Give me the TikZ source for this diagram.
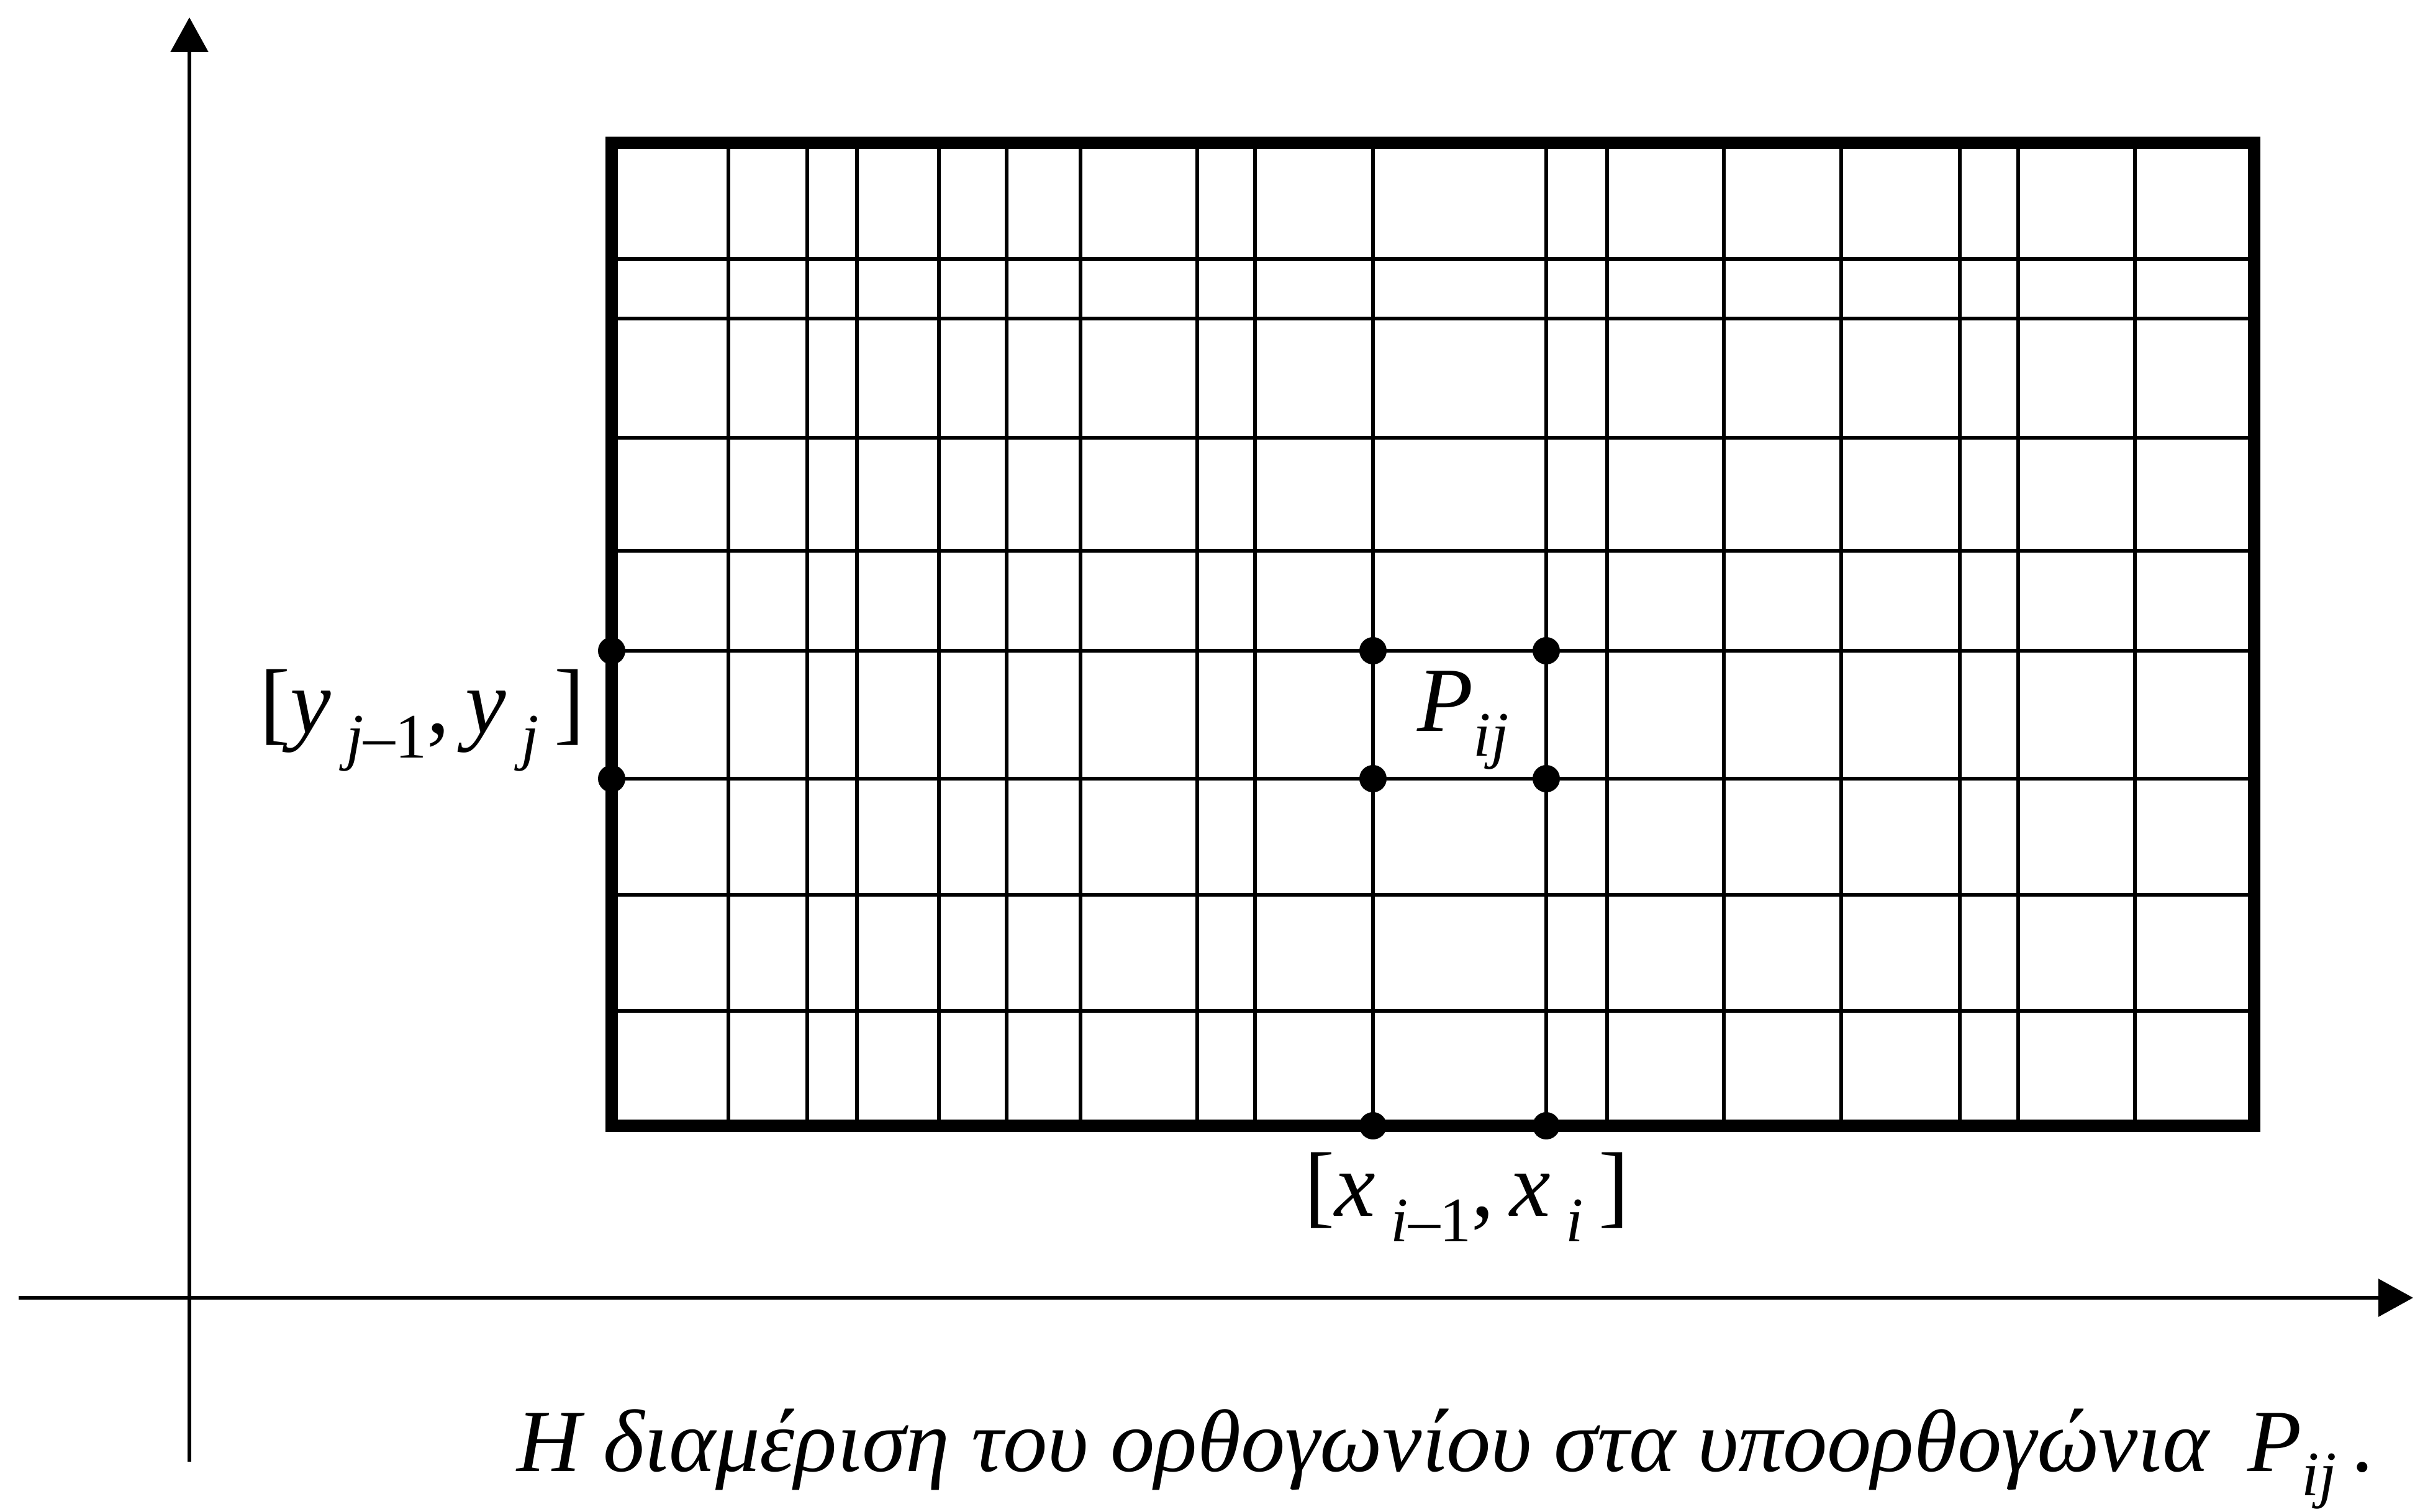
\documentclass[tikz,border=0pt]{standalone}
\usepackage{fontspec}
\setmainfont{Liberation Serif}
\usetikzlibrary{arrows.meta,positioning}
\newcommand{\lowsub}[1]{\raisebox{-0.6ex}{\fontsize{14.5}{15}\selectfont #1}}

\begin{document}
\begin{tikzpicture}[every node/.style={font=\fontsize{21}{24}\selectfont},
  axis/.style={line width=0.9pt, -{Triangle[length=2.8mm, width=3mm]}},
  border/.style={line width=2.9pt},
  gridline/.style={line width=0.95pt},
  dot/.style={circle, fill, inner sep=0pt, minimum size=2.2mm}]
  \useasboundingbox (0,0) rectangle (19.445,12.17);
  % axes
  \coordinate (ybot) at (1.525,0.40);
  \coordinate (ytop) at (1.525,12.03);
  \coordinate (xleft) at (0.15,1.72);
  \coordinate (xright) at (19.43,1.72);
  \draw[axis] (ybot) -- (ytop);
  \draw[axis] (xleft) -- (xright);
  % partition of the rectangle
  \foreach \x in {5.865,6.50,6.90,7.56,8.105,8.70,9.64,10.105,11.055,12.45,12.94,13.88,14.825,15.78,16.25,17.19}
    \draw[gridline] (\x,3.105) -- (\x,11.02);
  \foreach \y in {4.03,4.965,5.90,6.93,7.735,8.645,9.605,10.085}
    \draw[gridline] (4.925,\y) -- (18.15,\y);
  \draw[border] (4.925,3.105) rectangle (18.15,11.02);
  % points
  \node[dot] (yprev) at (4.925,5.90) {};
  \node[dot] (ycur) at (4.925,6.93) {};
  \node[dot] (xprev) at (11.055,3.105) {};
  \node[dot] (xcur) at (12.45,3.105) {};
  \node[dot] (pll) at (11.055,5.90) {};
  \node[dot] (plr) at (12.45,5.90) {};
  \node[dot] (pul) at (11.055,6.93) {};
  \node[dot] (pur) at (12.45,6.93) {};
  % labels
  \node (ylab) at (3.40,6.37) {[\textit{y}\,\lowsub{\textit{j}–1},\,\textit{y}\,\lowsub{\textit{j}}\,]};
  \node (plab) at (11.78,6.37) {\textit{P}\lowsub{\textit{ij}}};
  \node (xlab) at (11.81,2.53) {[\textit{x}\,\lowsub{\textit{i}–1},\,\textit{x}\,\lowsub{\textit{i}}\,]};
  \node[anchor=base west, inner sep=0pt, font=\fontsize{20.3}{24}\selectfont] (caption) at (4.155,0.325)
    {\textit{Η διαμέριση του ορθογωνίου στα υποορθογώνια}\, \textit{P}\lowsub{\textit{ij}}\,.};
\end{tikzpicture}
\end{document}
